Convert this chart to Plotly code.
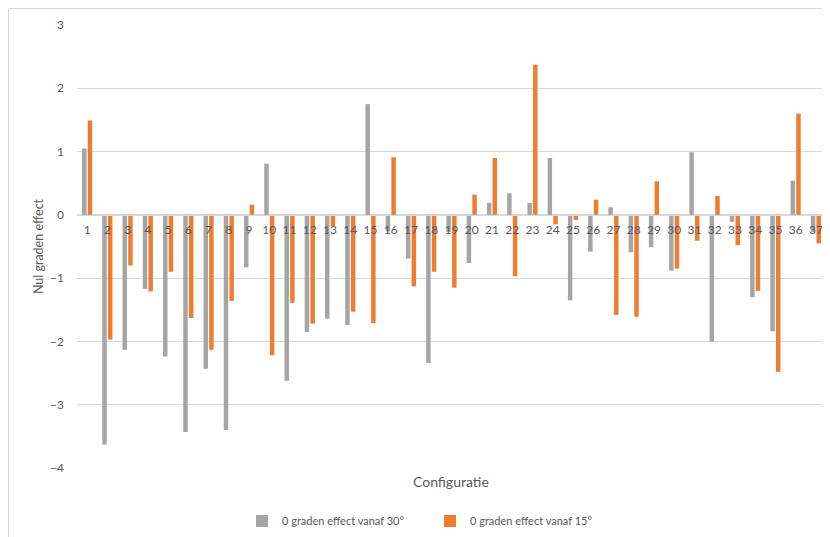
import plotly.graph_objects as go

categories = [str(i) for i in range(1, 38)]
effect_30 = [1.05, -3.63, -2.13, -1.17, -2.24, -3.43, -2.43, -3.40, -0.83, 0.81,
             -2.62, -1.85, -1.64, -1.74, 1.75, -0.26, -0.69, -2.34, -0.27, -0.76,
             0.19, 0.34, 0.19, 0.90, -1.35, -0.58, 0.12, -0.59, -0.51, -0.88,
             0.99, -2.00, -0.11, -1.30, -1.84, 0.54, -0.27]
effect_15 = [1.49, -1.97, -0.80, -1.21, -0.90, -1.63, -2.13, -1.36, 0.16, -2.22,
             -1.39, -1.72, -0.18, -1.53, -1.71, 0.91, -1.13, -0.90, -1.15, 0.32,
             0.90, -0.97, 2.37, -0.15, -0.08, 0.24, -1.58, -1.61, 0.53, -0.85,
             -0.41, 0.30, -0.48, -1.20, -2.48, 1.60, -0.45]
series_names = ["0 graden effect vanaf 30°", "0 graden effect vanaf 15°"]
y_ticks = [3, 2, 1, 0, -1, -2, -3, -4]

# the page body has an 8px margin, so the figure sits at (8, 8)
OFF = 8
W, H = 830 - OFF, 537 - OFF
ML, MR, MT, MB = 77 - OFF, 4, 25 - OFF, 69
PW, PH = W - ML - MR, H - MT - MB

def px_x(px):
    return (px - OFF - ML) / PW

def px_y(py):
    return (H - MB - (py - OFF)) / PH

font_col = "#595959"
grid_col = "#D9D9D9"

fig = go.Figure()
fig.add_trace(go.Bar(x=categories, y=effect_30, name=series_names[0],
                     marker=dict(color="#A5A5A5", line=dict(width=0))))
fig.add_trace(go.Bar(x=categories, y=effect_15, name=series_names[1],
                     marker=dict(color="#ED7D31", line=dict(width=0))))

zero_pos = (0 - (-4)) / (3 - (-4))

fig.update_layout(
    width=W, height=H,
    margin=dict(l=ML, r=MR, t=MT, b=MB, pad=0, autoexpand=False),
    paper_bgcolor="white", plot_bgcolor="white",
    barmode="group", bargap=0.44, bargroupgap=0.21,
    font=dict(family="Lato, 'Open Sans', sans-serif", size=12, color=font_col),
    showlegend=True,
    legend=dict(orientation="h", x=px_x(242), xanchor="left",
                y=px_y(521), yanchor="middle",
                font=dict(size=11, color=font_col),
                itemwidth=30, entrywidth=143, traceorder="normal"),
    xaxis=dict(type="category", anchor="free", position=zero_pos,
               showline=True, linecolor=grid_col, linewidth=1,
               showgrid=False, ticks="", tickfont=dict(size=12, color=font_col),
               ticklabelstandoff=4, zeroline=False),
    yaxis=dict(range=[-4, 3], tickvals=y_ticks, showgrid=True,
               gridcolor=grid_col, gridwidth=1, zeroline=True,
               zerolinecolor=grid_col, zerolinewidth=1, showline=False,
               ticks="", tickfont=dict(size=12, color=font_col),
               ticklabelstandoff=12,
               title=dict(text="Nul graden effect", standoff=3,
                          font=dict(size=12.5, color=font_col))),
    annotations=[dict(text="Configuratie", x=px_x(451), y=px_y(481),
                      xref="paper", yref="paper", showarrow=False,
                      xanchor="center", yanchor="middle",
                      font=dict(size=14, color=font_col))],
    shapes=[dict(type="rect", xref="paper", yref="paper",
                 x0=px_x(8.5), x1=px_x(845), y0=px_y(550), y1=px_y(8.5),
                 line=dict(color=grid_col, width=1), layer="below")],
)

fig.write_html("out.html")
